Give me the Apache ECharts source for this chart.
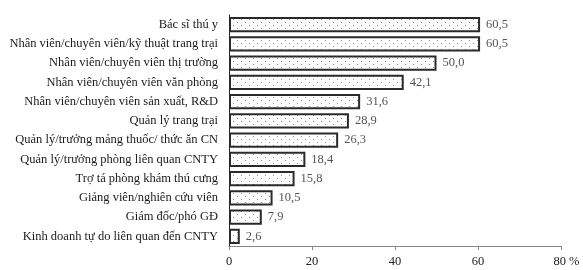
<!DOCTYPE html>
<html><head><meta charset="utf-8">
<script src="https://cdn.jsdelivr.net/npm/echarts@6/dist/echarts.min.js"></script>
<style>html,body{margin:0;padding:0;background:#fff}#c{width:583px;height:270px}</style>
</head><body><div id="c"></div>
<script>
const categories = [
  "Bác sĩ thú y",
  "Nhân viên/chuyên viên/kỹ thuật trang trại",
  "Nhân viên/chuyên viên thị trường",
  "Nhân viên/chuyên viên văn phòng",
  "Nhân viên/chuyên viên sản xuất, R&D",
  "Quản lý trang trại",
  "Quản lý/trưởng mảng thuốc/ thức ăn CN",
  "Quản lý/trưởng phòng liên quan CNTY",
  "Trợ tá phòng khám thú cưng",
  "Giảng viên/nghiên cứu viên",
  "Giám đốc/phó GĐ",
  "Kinh doanh tự do liên quan đến CNTY"
];
const values = [60.5, 60.5, 50.0, 42.1, 31.6, 28.9, 26.3, 18.4, 15.8, 10.5, 7.9, 2.6];
const xTicks = [0, 20, 40, 60, 80];

const pc = document.createElement('canvas');
pc.width = 8; pc.height = 6;
const g = pc.getContext('2d');
g.fillStyle = '#fff'; g.fillRect(0,0,8,6);
g.fillStyle = '#8a8a8a';
g.fillRect(1,1,1,1); g.fillRect(5,4,1,1);

const FONT = '"Liberation Serif", serif';
const chart = echarts.init(document.getElementById('c'));
chart.setOption({
  animation: false,
  grid: {left: 229, right: 22, top: 15, bottom: 24, containLabel: false},
  xAxis: {
    type: 'value', min: xTicks[0], max: xTicks[xTicks.length-1], interval: 20,
    splitLine: {show: false},
    axisLine: {show: true, lineStyle: {color: '#888', width: 1}},
    axisTick: {show: true, length: 4, lineStyle: {color: '#888'}},
    axisLabel: {
      margin: 9, color: '#222', fontFamily: FONT, fontSize: 12.5,
      formatter: v => v === 80 ? '{pad|}{n|80}{s| %}' : String(v),
      rich: {pad: {width: 11, fontFamily: FONT, fontSize: 12.5}, n: {fontFamily: FONT, fontSize: 12.5, color: '#222'}, s: {fontFamily: FONT, fontSize: 12.5, color: '#222'}}
    }
  },
  yAxis: {
    type: 'category', data: categories, inverse: true,
    axisLine: {show: true, lineStyle: {color: '#222', width: 1}},
    axisTick: {show: false},
    axisLabel: {margin: 11, color: '#1a1a1a', fontFamily: FONT, fontSize: 12.5}
  },
  series: [{
    type: 'bar', data: values, barCategoryGap: '20%',
    itemStyle: {color: {image: pc, repeat: 'repeat'}, borderColor: '#2a2a2a', borderWidth: 2},
    label: {show: true, position: 'right', distance: 6, color: '#555', fontFamily: FONT, fontSize: 12.5,
      formatter: p => p.value.toFixed(1).replace('.', ',')}
  }]
});
</script></body></html>
